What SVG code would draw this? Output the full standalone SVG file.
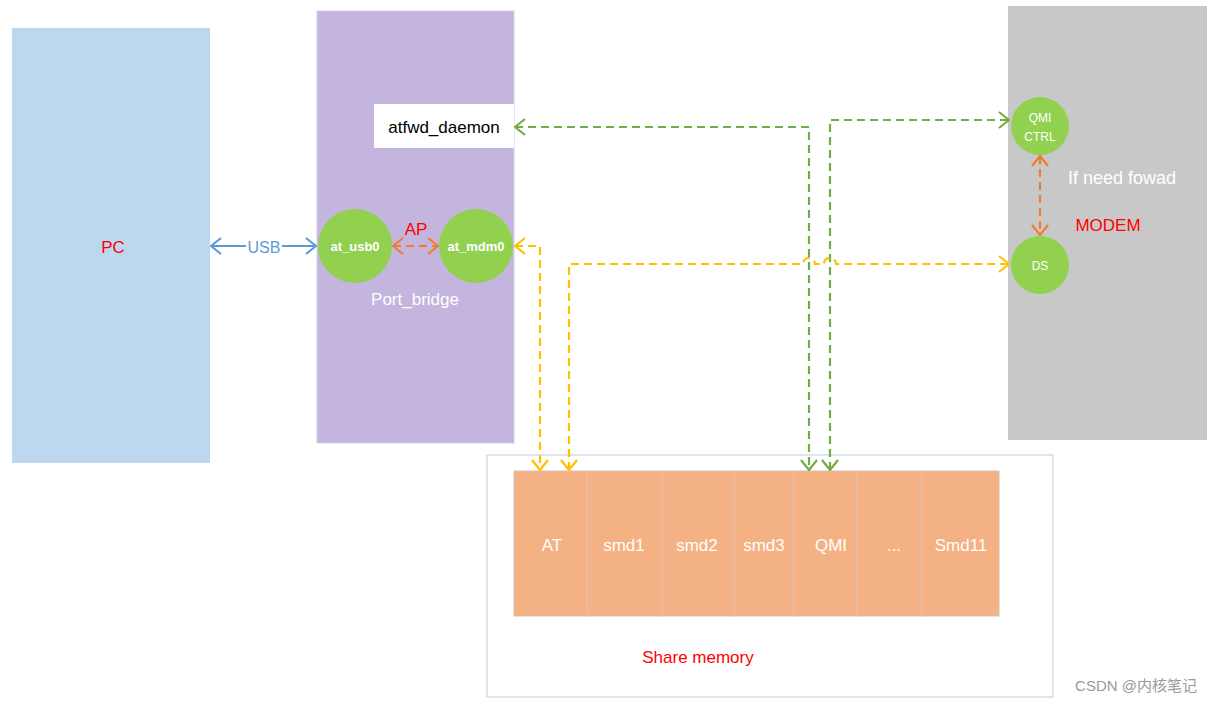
<svg xmlns="http://www.w3.org/2000/svg" width="1219" height="703" viewBox="0 0 1219 703">
<style>
.lbl{font-family:"Liberation Sans",Arial,sans-serif;}
.wt{fill:#ffffff;}
.red{fill:#FF0000;}
.circ{fill:#92D050;}
.cell{fill:#F4B183;stroke:#D9C2B0;stroke-width:1;}
.dash{fill:none;stroke-width:2.2;stroke-dasharray:8 5;}
.g{stroke:#70AD47;}
.y{stroke:#FFC000;}
.o{stroke:#ED7D31;}
</style>
<defs>
<marker id="ag" viewBox="0 0 12 18" refX="11" refY="9" markerWidth="12" markerHeight="18" markerUnits="userSpaceOnUse" orient="auto-start-reverse"><path d="M1,1 L11,9 L1,17" fill="none" stroke="#70AD47" stroke-width="2.2"/></marker>
<marker id="ay" viewBox="0 0 12 18" refX="11" refY="9" markerWidth="12" markerHeight="18" markerUnits="userSpaceOnUse" orient="auto-start-reverse"><path d="M1,1 L11,9 L1,17" fill="none" stroke="#FFC000" stroke-width="2.2"/></marker>
<marker id="ao" viewBox="0 0 12 18" refX="11" refY="9" markerWidth="12" markerHeight="18" markerUnits="userSpaceOnUse" orient="auto-start-reverse"><path d="M1,1 L11,9 L1,17" fill="none" stroke="#ED7D31" stroke-width="2.2"/></marker>
<marker id="ab" viewBox="0 0 12 18" refX="11" refY="9" markerWidth="12" markerHeight="18" markerUnits="userSpaceOnUse" orient="auto-start-reverse"><path d="M1,1 L11,9 L1,17" fill="none" stroke="#5B9BD5" stroke-width="2.2"/></marker>
</defs>
<rect width="1219" height="703" fill="#ffffff"/>

<g id="pc">
<rect x="12" y="28" width="198" height="435" fill="#BDD7EE"/>
<text class="lbl red" x="113" y="253" font-size="17" text-anchor="middle">PC</text>
</g>

<g id="port_bridge">
<rect x="317" y="11" width="197" height="432" fill="#C3B5DD" stroke="#D8CCE8" stroke-width="1"/>
<text class="lbl wt" x="415" y="305" font-size="17" text-anchor="middle">Port_bridge</text>
<text class="lbl red" x="416" y="235" font-size="17" text-anchor="middle">AP</text>
</g>

<g id="atfwd_daemon">
<rect x="374" y="104" width="140" height="44" fill="#ffffff"/>
<text class="lbl" x="444" y="133" font-size="17" text-anchor="middle" fill="#000">atfwd_daemon</text>
</g>

<g id="at_usb0">
<circle class="circ" cx="355" cy="246" r="37"/>
<text class="lbl wt" x="355" y="251" font-size="13" font-weight="bold" text-anchor="middle">at_usb0</text>
</g>

<g id="at_mdm0">
<circle class="circ" cx="476" cy="246" r="37"/>
<text class="lbl wt" x="476" y="251" font-size="13" font-weight="bold" text-anchor="middle">at_mdm0</text>
</g>

<g id="modem">
<rect x="1008" y="6" width="199" height="434" fill="#C8C8C8"/>
<text class="lbl wt" x="1122" y="184" font-size="18" text-anchor="middle">If need fowad</text>
<text class="lbl red" x="1108" y="231" font-size="17" text-anchor="middle">MODEM</text>
</g>

<g id="qmi_ctrl">
<circle class="circ" cx="1040" cy="126" r="29"/>
<text class="lbl wt" x="1040" y="122" font-size="12" text-anchor="middle">QMI</text>
<text class="lbl wt" x="1040" y="141" font-size="12" text-anchor="middle">CTRL</text>
</g>

<g id="ds">
<circle class="circ" cx="1040" cy="265" r="29"/>
<text class="lbl wt" x="1040" y="270" font-size="12" text-anchor="middle">DS</text>
</g>

<g id="share_memory">
<rect x="487" y="455" width="566" height="242" fill="#ffffff" stroke="#C9D6DF" stroke-width="1.2"/>
<text class="lbl red" x="698" y="663" font-size="17" text-anchor="middle">Share memory</text>
</g>

<g id="cell_at"><rect class="cell" x="514" y="471" width="73" height="145"/><text class="lbl wt" x="552" y="551" font-size="17" text-anchor="middle">AT</text></g>
<g id="cell_smd1"><rect class="cell" x="587" y="471" width="75" height="145"/><text class="lbl wt" x="624" y="551" font-size="17" text-anchor="middle">smd1</text></g>
<g id="cell_smd2"><rect class="cell" x="662" y="471" width="72" height="145"/><text class="lbl wt" x="697" y="551" font-size="17" text-anchor="middle">smd2</text></g>
<g id="cell_smd3"><rect class="cell" x="734" y="471" width="60" height="145"/><text class="lbl wt" x="764" y="551" font-size="17" text-anchor="middle">smd3</text></g>
<g id="cell_qmi"><rect class="cell" x="794" y="471" width="63" height="145"/><text class="lbl wt" x="831" y="551" font-size="17" text-anchor="middle">QMI</text></g>
<g id="cell_dots"><rect class="cell" x="857" y="471" width="65" height="145"/><text class="lbl wt" x="894" y="551" font-size="17" text-anchor="middle">...</text></g>
<g id="cell_smd11"><rect class="cell" x="922" y="471" width="77" height="145"/><text class="lbl wt" x="961" y="551" font-size="17" text-anchor="middle">Smd11</text></g>

<g id="connectors">
<path d="M211,246 L316,246" fill="none" stroke="#5B9BD5" stroke-width="2" marker-start="url(#ab)" marker-end="url(#ab)"/>
<rect x="246" y="237" width="36" height="18" fill="#ffffff"/>
<text class="lbl" x="264" y="253" font-size="16" text-anchor="middle" fill="#5B9BD5">USB</text>
<path class="dash o" d="M393,246 L438,246" marker-start="url(#ao)" marker-end="url(#ao)"/>
<path class="dash o" d="M1040,156 L1040,235" marker-start="url(#ao)" marker-end="url(#ao)"/>
<path class="dash g" d="M515,127 L809,127 L809,470" marker-start="url(#ag)" marker-end="url(#ag)"/>
<path class="dash g" d="M830,470 L830,120 L1009,120" marker-start="url(#ag)" marker-end="url(#ag)"/>
<path class="dash y" d="M515,246 L540,246 L540,470" marker-start="url(#ay)" marker-end="url(#ay)"/>
<path class="dash y" d="M569,470 L569,264 L803,264 A6,6 0 0 1 815,264 L824,264 A6,6 0 0 1 836,264 L1009,264" marker-start="url(#ay)" marker-end="url(#ay)"/>
</g>

<text x="1136" y="691" font-size="15" text-anchor="middle" fill="#9A9A9A" font-family="'Liberation Sans','Noto Sans CJK SC',sans-serif">CSDN @内核笔记</text>
</svg>
